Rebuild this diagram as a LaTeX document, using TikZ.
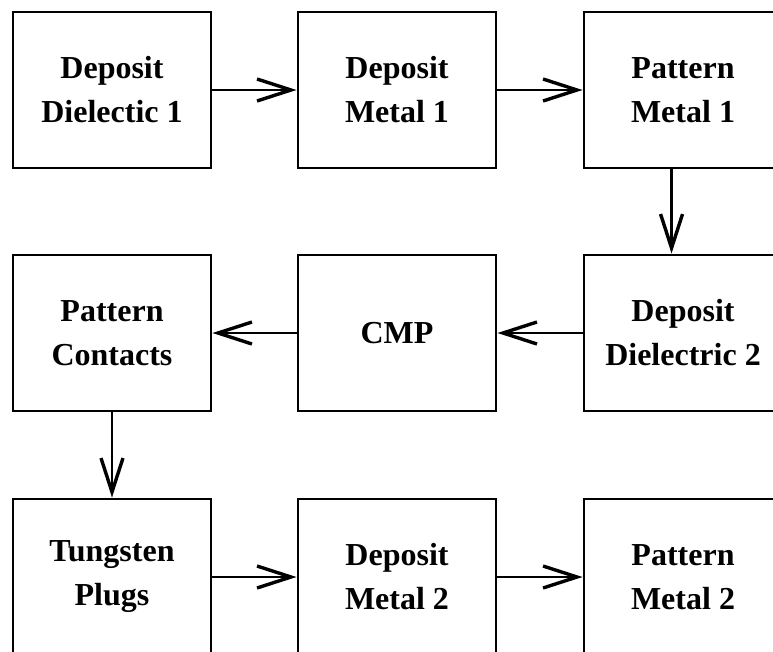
\documentclass[tikz,border=0pt]{standalone}
\usepackage{fontspec}
\setmainfont{Liberation Serif}
\usetikzlibrary{arrows.meta}
\tikzset{
  x=1pt, y=-1pt,
  stage/.style={draw, line width=2.9pt, minimum width=198pt, minimum height=156pt,
    inner sep=0pt, align=center,
    font=\fontsize{32}{44}\selectfont\bfseries},
  flow/.style={line width=2.9pt,
    -{Straight Barb[length=34pt,width=22pt,line width=3.4pt]}}
}
\begin{document}
\begin{tikzpicture}
\useasboundingbox (0,0) rectangle (773,651);
\clip (0,0) rectangle (773,651);
% row 1
\node[stage] (dd1) at (112,90)  {Deposit\\Dielectic 1};
\node[stage] (dm1) at (397,90)  {Deposit\\Metal 1};
\node[stage] (pm1) at (683,90)  {Pattern\\Metal 1};
% row 2
\node[stage] (pc)  at (112,333) {Pattern\\Contacts};
\node[stage] (cmp) at (397,333) {CMP};
\node[stage] (dd2) at (683,333) {Deposit\\Dielectric 2};
% row 3
\node[stage] (tp)  at (112,577) {Tungsten\\Plugs};
\node[stage] (dm2) at (397,577) {Deposit\\Metal 2};
\node[stage] (pm2) at (683,577) {Pattern\\Metal 2};
% connectors
\draw[flow] (dd1) -- (dm1);
\draw[flow] (dm1) -- (pm1);
\draw[flow] ([xshift=89pt]pm1.south west) -- ([xshift=89pt]dd2.north west);
\draw[flow] (dd2) -- (cmp);
\draw[flow] (cmp) -- (pc);
\draw[flow] (pc) -- (tp);
\draw[flow] (tp) -- (dm2);
\draw[flow] (dm2) -- (pm2);
\end{tikzpicture}
\end{document}
